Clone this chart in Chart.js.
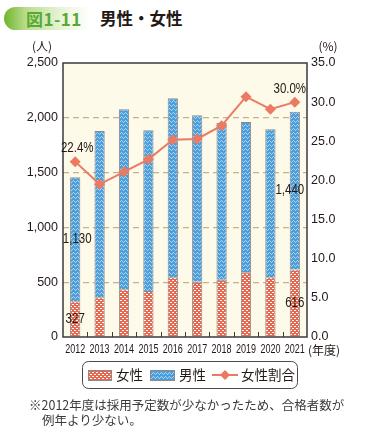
<!DOCTYPE html>
<html lang="ja">
<head>
<meta charset="utf-8">
<script src="https://cdn.jsdelivr.net/npm/chart.js@4.4.1/dist/chart.umd.min.js"></script>
<style>
  html, body { margin: 0; padding: 0; background: #fff; }
  #wrap { position: relative; width: 380px; height: 435px; overflow: hidden;
          font-family: "Noto Sans CJK JP", "Noto Sans", sans-serif; color: #231815; }
  #chart { position: absolute; left: 0; top: 0; }
  .badge { position: absolute; left: 4px; top: 7px; width: 86px; height: 23px;
           border-radius: 12px 0 0 12px;
           background: linear-gradient(90deg, #6fb52c 0%, #b9dc8c 25%, #e6f3d6 65%, rgba(255,255,255,0) 100%); }
  .badge span { position: absolute; left: 22px; top: 0; line-height: 23px; font-size: 17px;
                font-weight: 600; color: #5aa832; letter-spacing: 0.5px; }
  .title { position: absolute; left: 100px; top: 6px; line-height: 24px; font-size: 16.5px; font-weight: bold; color: #231815; }
  .note { position: absolute; left: 29px; top: 397px; font-size: 12.5px; line-height: 15px; color: #3a3a3a; }
  .note div + div { padding-left: 13px; }
</style>
</head>
<body>
<div id="wrap">
  <div class="badge"><span>図1-11</span></div>
  <div class="title">男性・女性</div>
  <canvas id="chart" width="380" height="435"></canvas>
  <div class="note">
    <div>※2012年度は採用予定数が少なかったため、合格者数が</div>
    <div>例年より少ない。</div>
  </div>
</div>
<script>
// データ
const years = ['2012', '2013', '2014', '2015', '2016', '2017', '2018', '2019', '2020', '2021'];
const female = [327, 362, 435, 420, 545, 505, 523, 590, 545, 616];
const male = [1130, 1518, 1642, 1466, 1633, 1518, 1430, 1372, 1350, 1440];
const femaleRatio = [22.4, 19.5, 21.1, 22.7, 25.2, 25.3, 27.0, 30.7, 29.1, 30.0];
const leftTicks = [0, 500, 1000, 1500, 2000, 2500];
const rightTicks = [0, 5, 10, 15, 20, 25, 30, 35];

const colors = {
    red: '#e8674f',
    blue: '#4c9edb',
    line: '#ec7a62',
    grid: '#c7b18a',
    axis: '#3a3a3a',
    plotBg: '#fdfaea',
    text: '#231815'
};

const numFont = "'Liberation Sans', Arial, sans-serif";
const jpFont = "'Noto Sans CJK JP', 'Noto Sans', sans-serif";

// パターン
function femalePattern(ctx) {
    const c = document.createElement('canvas');
    c.width = 4; c.height = 4;
    const g = c.getContext('2d');
    g.fillStyle = colors.red;
    g.fillRect(0, 0, 4, 4);
    g.fillStyle = '#ffffff';
    g.fillRect(0, 0, 2, 1);
    g.fillRect(2, 2, 2, 1);
    return ctx.createPattern(c, 'repeat');
}

function malePattern(ctx) {
    const c = document.createElement('canvas');
    c.width = 4; c.height = 4;
    const g = c.getContext('2d');
    g.fillStyle = colors.blue;
    g.fillRect(0, 0, 4, 4);
    g.fillStyle = '#a9d3f2';
    g.fillRect(0, 1, 1, 1);
    g.fillRect(1, 0, 1, 1);
    g.fillRect(2, 1, 1, 1);
    g.fillRect(3, 2, 1, 1);
    return ctx.createPattern(c, 'repeat');
}

const canvas = document.getElementById('chart');
const ctx0 = canvas.getContext('2d');
const patF = femalePattern(ctx0);
const patM = malePattern(ctx0);

function fmt(n) { return n.toLocaleString('en-US'); }

// 横に詰めた文字
function narrowText(ctx, text, x, y, sx) {
    ctx.save();
    ctx.translate(x, y);
    ctx.scale(sx, 1);
    ctx.fillText(text, 0, 0);
    ctx.restore();
}

// 背景・枠・ラベル
const decor = {
    id: 'decor',
    beforeDraw(chart) {
        const { ctx, chartArea: a } = chart;
        ctx.save();
        ctx.fillStyle = colors.plotBg;
        ctx.fillRect(a.left, a.top, a.right - a.left, a.bottom - a.top);
        ctx.restore();
    },
    afterDatasetsDraw(chart) {
        const { ctx, chartArea: a, scales } = chart;
        const x = scales.x, y = scales.y, y1 = scales.y1;
        ctx.save();
        // 枠
        ctx.strokeStyle = colors.axis;
        ctx.lineWidth = 1.5;
        ctx.strokeRect(a.left, a.top, a.right - a.left, a.bottom - a.top);
        // 目盛り（下）
        ctx.lineWidth = 1;
        for (let i = 1; i < years.length; i++) {
            const px = Math.round((x.getPixelForValue(i - 1) + x.getPixelForValue(i)) / 2) + 0.5;
            ctx.beginPath();
            ctx.moveTo(px, a.bottom);
            ctx.lineTo(px, a.bottom - 5);
            ctx.stroke();
        }
        // 年ラベル
        ctx.fillStyle = colors.text;
        ctx.font = '12.5px ' + numFont;
        ctx.textAlign = 'center';
        ctx.textBaseline = 'middle';
        years.forEach((yr, i) => narrowText(ctx, yr, x.getPixelForValue(i), 350, 0.72));

        // 単位
        ctx.font = '12px ' + jpFont;
        ctx.fillText('(人)', 42, 46);
        ctx.fillText('(%)', 328, 46);
        ctx.textAlign = 'left';
        ctx.fillText('(年度)', a.right + 1, 350);

        // 数値ラベル
        ctx.font = '14px ' + numFont;
        ctx.textAlign = 'center';
        const first = 0, last = years.length - 1;
        const x0 = x.getPixelForValue(first), xl = x.getPixelForValue(last);
        const sx = 0.82;
        narrowText(ctx, fmt(female[first]), x0, (y.getPixelForValue(0) + y.getPixelForValue(female[first])) / 2, sx);
        narrowText(ctx, fmt(male[first]), x0 + 2, (y.getPixelForValue(female[first]) + y.getPixelForValue(female[first] + male[first])) / 2, sx);
        narrowText(ctx, fmt(female[last]), xl, (y.getPixelForValue(0) + y.getPixelForValue(female[last])) / 2, sx);
        narrowText(ctx, fmt(male[last]), xl - 5, (y.getPixelForValue(female[last]) + y.getPixelForValue(female[last] + male[last])) / 2, sx);
        narrowText(ctx, femaleRatio[first].toFixed(1) + '%', x0 + 2, y1.getPixelForValue(femaleRatio[first]) - 13, sx);
        narrowText(ctx, femaleRatio[last].toFixed(1) + '%', xl - 5, y1.getPixelForValue(femaleRatio[last]) - 13, sx);

        // 凡例
        const lx = 82, ly = 361, lw = 215, lh = 27;
        ctx.strokeStyle = '#4a4a4a';
        ctx.lineWidth = 1;
        ctx.beginPath();
        ctx.roundRect(lx + 0.5, ly + 0.5, lw, lh, 6);
        ctx.stroke();
        const cy = ly + lh / 2 + 0.5;
        ctx.fillStyle = patF;
        ctx.fillRect(88, cy - 5, 23, 10);
        ctx.strokeStyle = '#8a8a8a';
        ctx.strokeRect(88.5, cy - 4.5, 23, 10);
        ctx.fillStyle = patM;
        ctx.fillRect(150, cy - 5, 24, 10);
        ctx.strokeRect(150.5, cy - 4.5, 24, 10);
        ctx.strokeStyle = colors.line;
        ctx.lineWidth = 2;
        ctx.beginPath();
        ctx.moveTo(212, cy);
        ctx.lineTo(238, cy);
        ctx.stroke();
        ctx.fillStyle = colors.line;
        ctx.beginPath();
        ctx.moveTo(225, cy - 5); ctx.lineTo(230, cy); ctx.lineTo(225, cy + 5); ctx.lineTo(220, cy);
        ctx.closePath();
        ctx.fill();
        ctx.fillStyle = colors.text;
        ctx.font = '13.5px ' + jpFont;
        ctx.textAlign = 'left';
        ctx.fillText('女性', 116, cy);
        ctx.fillText('男性', 179, cy);
        ctx.fillText('女性割合', 241, cy);
        ctx.restore();
    }
};

new Chart(canvas, {
    type: 'bar',
    data: {
        labels: years,
        datasets: [
            {
                type: 'line',
                label: '女性割合',
                data: femaleRatio,
                yAxisID: 'y1',
                borderColor: colors.line,
                backgroundColor: colors.line,
                borderWidth: 2,
                pointStyle: 'rectRot',
                pointRadius: 5.5,
                pointBorderWidth: 0,
                tension: 0,
                order: 0
            },
            {
                label: '女性',
                data: female,
                backgroundColor: patF,
                borderColor: '#8a8a8a',
                borderWidth: 1,
                stack: 's',
                order: 1
            },
            {
                label: '男性',
                data: male,
                backgroundColor: patM,
                borderColor: '#8a8a8a',
                borderWidth: 1,
                stack: 's',
                order: 1
            }
        ]
    },
    options: {
        responsive: false,
        animation: false,
        events: [],
        layout: { padding: { top: 63, left: 0, right: 0, bottom: 0 } },
        datasets: { bar: { barPercentage: 0.42, categoryPercentage: 1 } },
        plugins: {
            legend: { display: false },
            tooltip: { enabled: false }
        },
        scales: {
            x: {
                stacked: true,
                afterFit(s) { s.height = 98; },
                grid: { display: false },
                border: { display: false },
                ticks: { display: false }
            },
            y: {
                stacked: true,
                min: 0,
                max: 2500,
                afterFit(s) { s.width = 63; },
                afterBuildTicks(s) { s.ticks = leftTicks.map(v => ({ value: v })); },
                grid: {
                    drawTicks: false,
                    lineWidth: 1.3,
                    color: c => (c.tick.value === 0 || c.tick.value === 2500) ? 'rgba(0,0,0,0)' : colors.grid
                },
                border: { display: false, dash: [6, 4] },
                ticks: {
                    padding: 5,
                    color: colors.text,
                    font: { family: numFont, size: 12.5 },
                    callback: v => fmt(v)
                }
            },
            y1: {
                position: 'right',
                min: 0,
                max: 35,
                afterFit(s) { s.width = 73; },
                afterBuildTicks(s) { s.ticks = rightTicks.map(v => ({ value: v })); },
                grid: { display: false, drawTicks: false },
                border: { display: false },
                ticks: {
                    padding: 4,
                    color: colors.text,
                    font: { family: numFont, size: 12.5 },
                    callback: v => v.toFixed(1)
                }
            }
        }
    },
    plugins: [decor]
});
</script>
</body>
</html>
